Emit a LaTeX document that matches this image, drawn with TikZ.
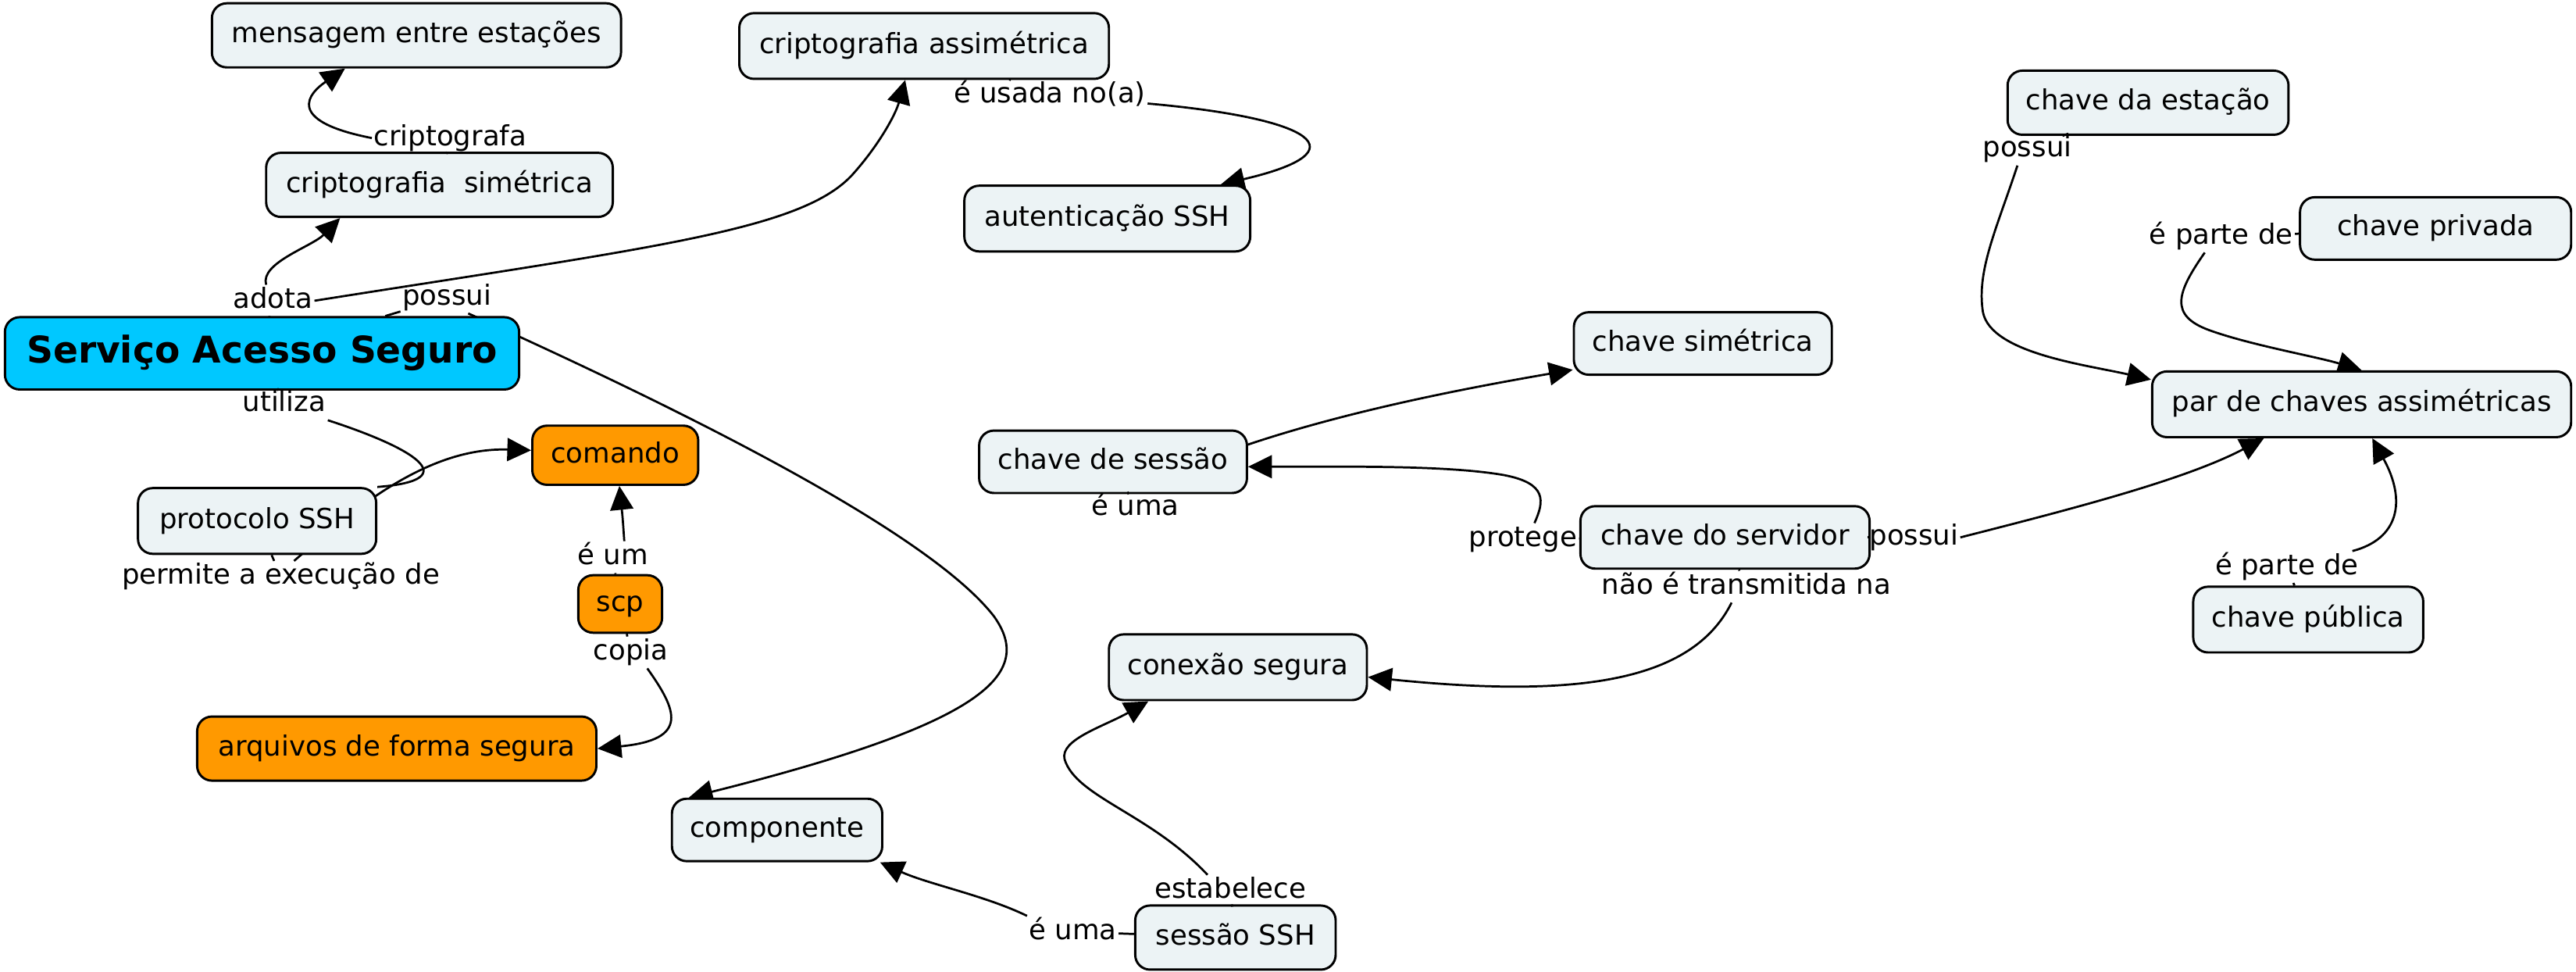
\documentclass[tikz,border=0pt]{standalone}
\usepackage{fontspec}
\setmainfont{DejaVu Sans}
\usetikzlibrary{arrows.meta}
\pgfdeclarelayer{bg}
\pgfsetlayers{bg,main}
\definecolor{cfill}{RGB}{236,243,245}
\definecolor{ccyan}{RGB}{0,200,255}
\definecolor{corange}{RGB}{255,153,0}
\begin{document}
\begin{tikzpicture}[x=1pt,y=-1pt,
  concept/.style={draw, line width=1.4pt, rounded corners=9pt, fill=cfill,
    minimum height=39pt, inner xsep=0pt, inner ysep=0pt, text height=13pt, text depth=4pt,
    font=\fontsize{16.9}{20}\selectfont},
  orangebox/.style={concept, fill=corange},
  lbl/.style={inner sep=1pt, text height=13pt, text depth=4pt, font=\fontsize{16.9}{20}\selectfont},
  link/.style={line width=1.3pt},
  arr/.style={line width=1.3pt, -{Triangle[length=14.5pt,width=14pt]}}]
\useasboundingbox (0,0) rectangle (1568,591.4);

% concepts
\node[concept, minimum width=249pt] (mens) at (253.5,21.5) {mensagem entre estações};
\node[concept, minimum width=225pt, minimum height=40pt] (casim) at (562.5,28) {criptografia assimétrica};
\node[concept, minimum width=211pt] (csim) at (267.5,112.5) {criptografia~~simétrica};
\node[concept, minimum width=174pt, minimum height=40pt] (aut) at (674,133) {autenticação SSH};
\node[concept, minimum width=171pt] (cest) at (1307.5,62.5) {chave da estação};
\node[concept, minimum width=165pt, minimum height=38pt] (cpriv) at (1482.5,139) {chave privada};
\node[concept, minimum width=255pt, minimum height=40pt] (par) at (1437.5,246) {par de chaves assimétricas};
\node[concept, minimum width=157pt, minimum height=38pt] (csimk) at (1036.5,209) {chave simétrica};
\node[concept, minimum width=163pt, minimum height=38pt] (csess) at (677.5,281) {chave de sessão};
\node[concept, fill=ccyan, minimum width=313pt, minimum height=44pt, text height=17pt, text depth=5pt,
  font=\fontsize{22.4}{26}\selectfont\bfseries] (serv) at (159.5,215) {Serviço Acesso Seguro};
\node[orangebox, minimum width=101pt, minimum height=36pt] (cmd) at (374.5,277) {comando};
\node[concept, minimum width=145pt, minimum height=40pt] (proto) at (156.5,317) {protocolo SSH};
\node[orangebox, minimum width=51pt, minimum height=35pt] (scp) at (377.5,367.5) {scp};
\node[concept, minimum width=176pt, minimum height=38pt] (cserv) at (1050,327) {chave do servidor};
\node[concept, minimum width=140pt, minimum height=40pt] (cpub) at (1405,377) {chave pública};
\node[concept, minimum width=157pt, minimum height=40pt] (conex) at (753.5,406) {conexão segura};
\node[orangebox, minimum width=243pt] (arq) at (241.5,455.5) {arquivos de forma segura};
\node[concept, minimum width=128pt, minimum height=38pt] (comp) at (473,505) {componente};
\node[concept, minimum width=122pt] (sess) at (752,570.5) {sessão SSH};

% linking phrases
\node[lbl] (l_cripto) at (274,84) {criptografa};
\node[lbl] (l_usada) at (639,58) {é usada no(a)};
\node[lbl] (l_adota) at (166,183) {adota};
\node[lbl] (l_possuiA) at (272,181) {possui};
\node[lbl] (l_utiliza) at (173,246) {utiliza};
\node[lbl] (l_permite) at (171,351) {permite a execução de};
\node[lbl] (l_eum) at (373,339) {é um};
\node[lbl] (l_copia) at (384,397) {copia};
\node[lbl] (l_possuiB) at (1234,91) {possui};
\node[lbl] (l_parteA) at (1352,144) {é parte de};
\node[lbl] (l_eumaA) at (691,309) {é uma};
\node[lbl] (l_protege) at (927,328) {protege};
\node[lbl] (l_possuiC) at (1165,327) {possui};
\node[lbl] (l_naotrans) at (1063,357) {não é transmitida na};
\node[lbl] (l_parteB) at (1392,345) {é parte de};
\node[lbl] (l_estab) at (749,542) {estabelece};
\node[lbl] (l_eumaB) at (653,567) {é uma};

% concept -> linking phrase
\draw[link] (csim) -- (l_cripto);
\draw[link] (serv) -- (l_adota);
\draw[link] (serv) -- (l_possuiA);
\draw[link] (serv) -- (l_utiliza);
\draw[link] (casim) -- (l_usada);
\draw[link] (proto) -- (l_permite);
\draw[link] (scp) -- (l_eum);
\draw[link] (scp) -- (l_copia);
\draw[link] (cest) -- (l_possuiB);
\draw[link] (cpriv) -- (l_parteA);
\draw[link] (csess) -- (l_eumaA);
\draw[link] (cserv) -- (l_protege);
\draw[link] (cserv) -- (l_possuiC);
\draw[link] (cserv) -- (l_naotrans);
\draw[link] (cpub) -- (l_parteB);
\draw[link] (sess) -- (l_estab);
\draw[link] (sess) -- (l_eumaB);

% linking phrase -> concept
\begin{pgfonlayer}{bg}
\draw[arr] (l_cripto.west) .. controls (165,72) and (195,52) .. ([xshift=-43.5pt]mens.south);
\draw[arr] ([xshift=-4pt]l_adota.north) .. controls (158,160) and (190,150) .. ([xshift=-60.5pt]csim.south);
\draw[arr] (l_adota.east) .. controls (400,150) and (490,140) .. (520,105)
  .. controls (535,88) and (545,70) .. ([xshift=-11.5pt]casim.south);
\draw[arr] ([yshift=-5pt]l_usada.east) .. controls (800,72) and (830,92) .. ([xshift=69pt]aut.north);
\draw[link] (l_utiliza.south east) .. controls (250,272) and (285,292) .. (proto.north east);
\draw[arr] ([xshift=8pt]l_permite.north) .. controls (215,310) and (260,272) .. ([yshift=3pt]cmd.west);
\draw[arr] ([xshift=7pt]l_eum.north) .. controls (379,315) .. ([xshift=2.5pt]cmd.south);
\draw[arr] ([xshift=10pt]l_copia.south) .. controls (412,432) and (420,450) .. (arq.east);
\draw[arr] ([xshift=13pt]l_possuiA.south) .. controls (450,265) and (570,330) .. (605,375)
  .. controls (630,410) and (600,440) .. ([xshift=11pt]comp.north west);
\draw[arr] (l_eumaB.north west) .. controls (600,545) and (565,538) .. ([xshift=-2pt]comp.south east);
\draw[arr] ([xshift=-14pt]l_estab.north) .. controls (700,495) and (655,485) .. (648,462)
  .. controls (645,450) and (672,442) .. ([xshift=-54.5pt]conex.south);
\draw[arr] ([xshift=-9pt]l_naotrans.south) .. controls (1030,415) and (960,425) .. ([yshift=-6pt]conex.east);
\draw[arr] ([xshift=7pt]l_protege.north) .. controls (940,305) and (942,294) .. (915,289)
  .. controls (880,283) and (820,284) .. ([yshift=-3pt]csess.east);
\draw[arr] (l_eumaA.north) .. controls (760,262) and (870,240) .. ([yshift=-16pt]csimk.west);
\draw[arr] (l_possuiC.east) .. controls (1260,310) and (1330,292) .. ([xshift=-59.5pt]par.south);
\draw[arr] ([xshift=-6pt]l_possuiB.south) .. controls (1215,140) and (1203,165) .. (1207,190)
  .. controls (1212,215) and (1270,222) .. ([yshift=15pt]par.west);
\draw[arr] ([xshift=-10pt]l_parteA.south) .. controls (1325,178) and (1320,192) .. (1345,201)
  .. controls (1370,210) and (1410,217) .. (par.north);
\draw[arr] ([xshift=-5pt]l_parteB.north east) .. controls (1460,328) and (1465,305) .. ([xshift=6.5pt]par.south);
\end{pgfonlayer}
\end{tikzpicture}
\end{document}
